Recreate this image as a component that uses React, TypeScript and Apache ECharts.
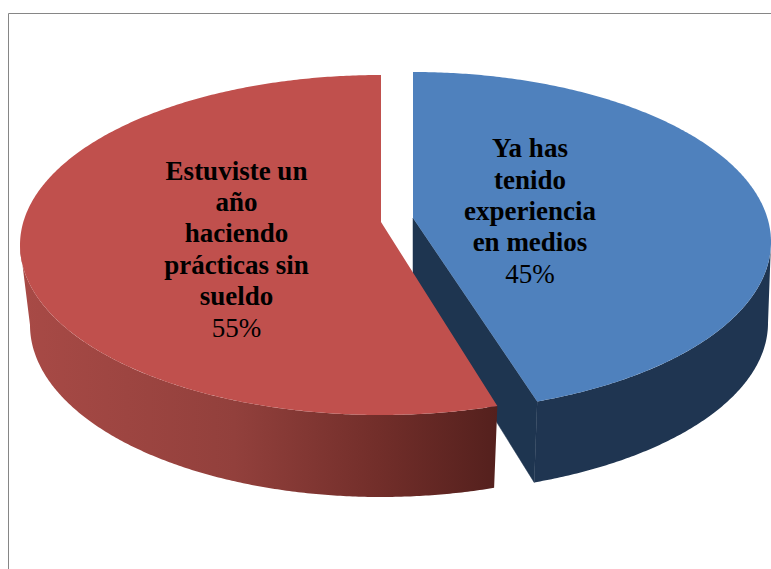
import React, { useEffect, useRef } from "react";
import * as echarts from "echarts";

const categories = [
  "Ya has\ntenido\nexperiencia\nen medios",
  "Estuviste un\naño\nhaciendo\nprácticas sin\nsueldo",
];
const shares = [45, 55];
const percentLabels = ["45%", "55%"];

type Geo = {
  top: { cx: number; cy: number; a: number; b: number };
  bottom: { cx: number; cy: number; a: number; b: number };
  apex: [number, number];
  apexBottom: [number, number];
  sideArc: [number, number];
  endNudge: number;
  startNudge: number;
  topColor: string;
  side: any;
  cut: string | null;
  label: [number, number];
};

const geometry: Geo[] = [
  {
    top: { cx: 413, cy: 242, a: 358, b: 170 },
    bottom: { cx: 410, cy: 323, a: 358, b: 170 },
    apex: [413, 218],
    apexBottom: [413, 288],
    sideArc: [90, 159.7],
    startNudge: 0,
    endNudge: -2.3,
    topColor: "#4f81bd",
    side: "#1f3551",
    cut: "#1e3550",
    label: [530, 211],
  },
  {
    top: { cx: 381, cy: 245, a: 361, b: 170 },
    bottom: { cx: 381, cy: 325, a: 351, b: 172 },
    apex: [381, 222],
    apexBottom: [381, 222],
    sideArc: [161.2, 270],
    startNudge: -0.8,
    endNudge: 0,
    topColor: "#c0504d",
    side: {
      type: "linear",
      x: 0,
      y: 0,
      x2: 1,
      y2: 0,
      colorStops: [
        { offset: 0, color: "#a84a46" },
        { offset: 0.45, color: "#92403c" },
        { offset: 0.75, color: "#722e2a" },
        { offset: 1, color: "#54201d" },
      ],
    },
    cut: null,
    label: [236.5, 249],
  },
];

const rad = (d: number) => (d * Math.PI) / 180;
const onEllipse = (e: Geo["top"], deg: number): number[] => [
  e.cx + e.a * Math.sin(rad(deg)),
  e.cy - e.b * Math.cos(rad(deg)),
];
const arc = (e: Geo["top"], from: number, to: number): number[][] => {
  const n = Math.max(2, Math.ceil(Math.abs(to - from) * 2));
  const pts: number[][] = [];
  for (let i = 0; i <= n; i++) pts.push(onEllipse(e, from + ((to - from) * i) / n));
  return pts;
};

const total = shares.reduce((s, v) => s + v, 0);

function renderItem(params: any, api: any) {
  const i: number = params.dataIndex;
  const g = geometry[i];
  let before = 0;
  for (let k = 0; k < i; k++) before += shares[k];
  const start = (before / total) * 360 + g.startNudge;
  const end = ((before + (api.value(0) as number)) / total) * 360 + g.endNudge;

  const children: any[] = [];
  const sidePts = [
    ...arc(g.top, g.sideArc[0], g.sideArc[1]),
    ...arc(g.bottom, g.sideArc[1], g.sideArc[0]),
  ];
  children.push({
    type: "polygon",
    shape: { points: sidePts },
    style: { fill: g.side },
    silent: true,
  });
  if (g.cut) {
    children.push({
      type: "polygon",
      shape: {
        points: [g.apex, onEllipse(g.top, end), onEllipse(g.bottom, end), g.apexBottom],
      },
      style: { fill: g.cut, stroke: g.cut, lineWidth: 0.5 },
      silent: true,
    });
  }
  children.push({
    type: "polygon",
    shape: { points: [g.apex, ...arc(g.top, start, end)] },
    style: { fill: g.topColor },
    silent: true,
  });
  children.push({
    type: "text",
    x: g.label[0],
    y: g.label[1],
    style: {
      text:
        categories[i]
          .split("\n")
          .map((l) => `{b|${l}}`)
          .join("\n") + `\n{n|${percentLabels[i]}}`,
      align: "center",
      verticalAlign: "middle",
      fill: "#000",
      rich: {
        b: {
          fontFamily: "Liberation Serif",
          fontWeight: "bold",
          fontSize: 27,
          lineHeight: 31.4,
          fill: "#000",
        },
        n: {
          fontFamily: "Liberation Serif",
          fontWeight: "normal",
          fontSize: 27,
          lineHeight: 31.4,
          fill: "#000",
        },
      },
    },
    silent: true,
  });
  return { type: "group", children };
}

export default function App() {
  const ref = useRef<HTMLDivElement>(null);
  useEffect(() => {
    const chart = echarts.init(ref.current!, undefined, { renderer: "svg" });
    chart.setOption({
      animation: false,
      backgroundColor: "#ffffff",
      graphic: [
        {
          type: "rect",
          shape: { x: 8.5, y: 13.5, width: 800, height: 600 },
          style: { fill: "none", stroke: "#868686", lineWidth: 1 },
          silent: true,
          z: -1,
        },
      ],
      series: [
        {
          type: "custom",
          coordinateSystem: "none",
          data: shares.map((v) => [v]),
          renderItem,
          silent: true,
          clip: false,
        },
      ],
    });
    return () => chart.dispose();
  }, []);
  return (
    <div
      ref={ref}
      style={{ position: "absolute", left: 0, top: 0, width: 771, height: 569 }}
    />
  );
}
